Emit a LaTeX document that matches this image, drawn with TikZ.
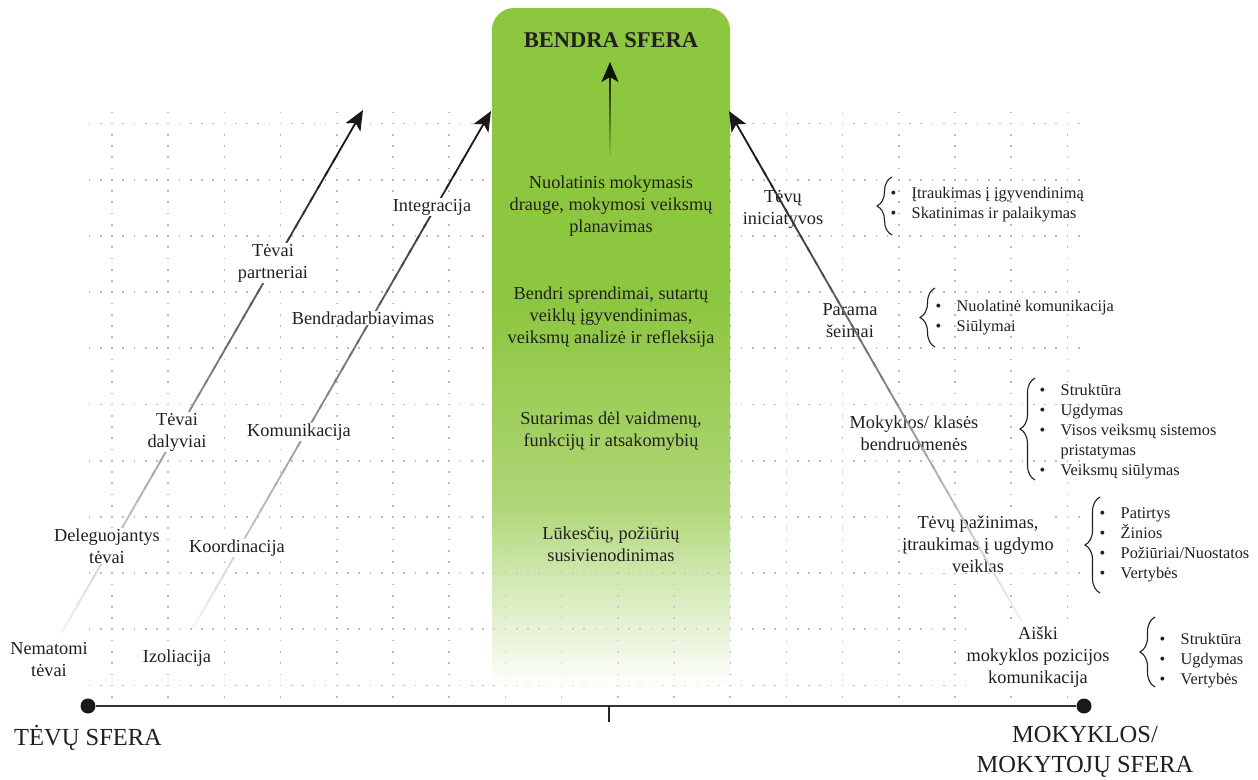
\documentclass[tikz,border=0pt]{standalone}
\usepackage{fontspec}
\setmainfont{Liberation Serif}
\usetikzlibrary{arrows.meta,calc,decorations.pathreplacing}

\definecolor{sferagreen}{RGB}{141,198,63}
\colorlet{greenmid}{sferagreen!72!white}
\colorlet{greenpale}{sferagreen!32!white}
\definecolor{inkgray}{RGB}{35,31,32}
\definecolor{dotgray}{RGB}{188,188,188}

% solid green in the upper part, fading to white towards the bottom
\pgfdeclareverticalshading{greenfade}{100bp}{color(0bp)=(white); color(25bp)=(white); color(31.6bp)=(greenpale); color(38.9bp)=(greenmid); color(53.6bp)=(sferagreen); color(100bp)=(sferagreen)}

\newcommand{\lblsize}{\fontsize{18.3}{22}\selectfont}
\newcommand{\lstsize}{\fontsize{16.3}{20}\selectfont}
\newcommand{\polesize}{\fontsize{24.5}{30}\selectfont}
\newcommand{\itm}[1]{\makebox[21pt][l]{\textbullet}#1}

% dotted background grid
\newcommand{\drawgrid}{%
  \foreach \k in {0,...,10}{\draw[griddots] (88.7,{123.5+56.2*\k}) -- (1082,{123.5+56.2*\k});}
  \foreach \k in {0,...,17}{\draw[griddots] ({112+56.2*\k},111.5) -- ({112+56.2*\k},699);}
}

% arrow whose stroke darkens from its start towards the tip
\newcommand{\fadeline}[3]{%
  \foreach \i in {0,...,35}{%
    \pgfmathsetmacro{\ta}{\i/40}%
    \pgfmathsetmacro{\tb}{(\i+1.3)/40}%
    \pgfmathsetmacro{\pc}{6+84*\i/36}%
    \draw[fadestroke, draw=black!\pc!#3] ($(#1)!\ta!(#2)$) -- ($(#1)!\tb!(#2)$);
  }%
  \draw[fadestroke, draw=black!90!#3, -{Stealth[length=20pt,width=17pt,inset=5pt]}] ($(#1)!0.9!(#2)$) -- (#2);
}

\tikzset{
  griddots/.style={draw=dotgray, line width=1.7pt, dash pattern=on 1.7pt off 9.54pt},
  fadestroke/.style={line width=1.8pt, line cap=round},
  lbl/.style={font=\lblsize, align=center, fill=white, inner sep=1pt, text=inkgray},
  ctext/.style={font=\lblsize, align=center, inner sep=0pt, text=inkgray},
  lst/.style={font=\lstsize, align=left, anchor=west, inner sep=0pt, text=inkgray},
  bracestyle/.style={decorate, decoration={brace, amplitude=15pt}, line width=1.1pt, draw=inkgray},
  pole/.style={font=\polesize, inner sep=0pt, text=inkgray},
  enddot/.style={circle, fill=black!90, minimum size=15pt, inner sep=0pt},
  axisline/.style={line width=2.2pt, draw=black!80}
}

\begin{document}
\begin{tikzpicture}[x=1pt, y=-1pt]
\useasboundingbox (0,0) rectangle (1258,779);
\fill[white] (0,0) rectangle (1258,779);

\drawgrid

% common sphere column
\shade[shading=greenfade, rounded corners=22pt] (492,8) rectangle (730,690);
\begin{scope}
  \clip (493,548) rectangle (729,690);
  \begin{scope}[opacity=0.55]
    \drawgrid
  \end{scope}
\end{scope}

% left arrows
\coordinate (a1s) at (62,632);
\coordinate (a1e) at (363,110);
\coordinate (a2s) at (193,628);
\coordinate (a2e) at (491,111);
\fadeline{a1s}{a1e}{white}
\fadeline{a2s}{a2e}{white}

% parents' side labels
\node[lbl] (tpart) at (273,263) {Tėvai\\partneriai};
\node[lbl] (tdal)  at (177,432) {Tėvai\\dalyviai};
\node[lbl] (tdel)  at (107,546) {Deleguojantys\\tėvai};
\node[lbl] (tnem)  at (49,660)  {Nematomi\\tėvai};
\node[lbl] (integ) at (432,207) {Integracija};
\node[lbl] (bendr) at (363,318) {Bendradarbiavimas};
\node[lbl] (komun) at (299,432) {Komunikacija};
\node[lbl] (koord) at (237,548) {Koordinacija};
\node[lbl] (izol)  at (177,658) {Izoliacija};

% column contents
\node[font=\bfseries\fontsize{22.5}{26}\selectfont, text=inkgray, inner sep=0pt] (bsf) at (611,40.5) {BENDRA SFERA};
\node[ctext] (c1) at (611,206) {Nuolatinis mokymasis\\drauge, mokymosi veiksmų\\planavimas};
\node[ctext] (c2) at (611,317) {Bendri sprendimai, sutartų\\veiklų įgyvendinimas,\\veiksmų analizė ir refleksija};
\node[ctext] (c3) at (611,431) {Sutarimas dėl vaidmenų,\\funkcijų ir atsakomybių};
\node[ctext] (c4) at (611,544) {Lūkesčių, požiūrių\\susivienodinimas};

% school side labels
\node[lbl] (tinic) at (783,209)  {Tėvų\\iniciatyvos};
\node[lbl] (param) at (850,321)  {Parama\\šeimai};
\node[lbl] (mokb)  at (914,433)  {Mokyklos/ klasės\\bendruomenės};
\node[lbl] (tpaz)  at (978,544)  {Tėvų pažinimas,\\įtraukimas į ugdymo\\veiklas};
\node[lbl] (aiski) at (1038,657) {Aiški\\mokyklos pozicijos\\komunikacija};

% right arrow and central arrow
\coordinate (a3s) at (1022,622);
\coordinate (a3e) at (729,111);
\fadeline{a3s}{a3e}{white}
\coordinate (cbot) at (610,155);
\coordinate (ctop) at (610,62);
\fadeline{cbot}{ctop}{sferagreen}

% braces with lists
\coordinate (b1s) at (892,235);  \coordinate (b1e) at (892,177);
\coordinate (b2s) at (935,347);  \coordinate (b2e) at (935,288);
\coordinate (b3s) at (1035,480); \coordinate (b3e) at (1035,378);
\coordinate (b4s) at (1100,593); \coordinate (b4e) at (1100,497);
\coordinate (b5s) at (1155,687); \coordinate (b5e) at (1155,617);
\draw[bracestyle] (b1s) -- (b1e);
\draw[bracestyle] (b2s) -- (b2e);
\draw[bracestyle] (b3s) -- (b3e);
\draw[bracestyle] (b4s) -- (b4e);
\draw[bracestyle] (b5s) -- (b5e);

\node[lst] (l1) at (890.5,205) {\itm{Įtraukimas į įgyvendinimą}\\\itm{Skatinimas ir palaikymas}};
\node[lst] (l2) at (935.5,318) {\itm{Nuolatinė komunikacija}\\\itm{Siūlymai}};
\node[lst] (l3) at (1039.5,432) {\itm{Struktūra}\\\itm{Ugdymas}\\\itm{Visos veiksmų sistemos}\\\hspace*{21pt}pristatymas\\\itm{Veiksmų siūlymas}};
\node[lst] (l4) at (1099.5,545) {\itm{Patirtys}\\\itm{Žinios}\\\itm{Požiūriai/Nuostatos}\\\itm{Vertybės}};
\node[lst] (l5) at (1159.5,661) {\itm{Struktūra}\\\itm{Ugdymas}\\\itm{Vertybės}};

% axis between the two spheres
\node[enddot] (lft) at (88,706) {};
\node[enddot] (rgt) at (1084,706) {};
\draw[axisline] (lft) -- (rgt);
\coordinate (mid) at (609,706);
\coordinate (midlow) at (609,722);
\draw[line width=2.2pt, draw=black!85] (mid) -- (midlow);

\node[pole, anchor=base west] (tsf) at (14,745) {TĖVŲ SFERA};
\node[pole, anchor=north, align=center] (msf) at (1085,726.5) {MOKYKLOS/\\MOKYTOJŲ SFERA};
\end{tikzpicture}
\end{document}
